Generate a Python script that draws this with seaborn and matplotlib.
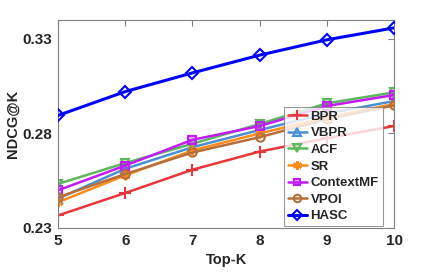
import numpy as np
import pandas as pd
import matplotlib
matplotlib.use("Agg")
import matplotlib.pyplot as plt
import seaborn as sns

topk = [5, 6, 7, 8, 9, 10]
methods = ["BPR", "VBPR", "ACF", "SR", "ContextMF", "VPOI", "HASC"]
bpr = [0.2366, 0.2485, 0.2608, 0.2704, 0.2775, 0.2839]
vbpr = [0.2455, 0.2613, 0.2727, 0.2818, 0.2905, 0.2971]
acf = [0.2533, 0.2643, 0.2745, 0.2850, 0.2959, 0.3017]
sr = [0.2436, 0.2578, 0.2710, 0.2800, 0.2885, 0.2955]
contextmf = [0.2499, 0.2630, 0.2766, 0.2839, 0.2945, 0.3003]
vpoi = [0.2462, 0.2585, 0.2699, 0.2780, 0.2875, 0.2948]
hasc = [0.2895, 0.3021, 0.3120, 0.3214, 0.3295, 0.3358]
yticks = [0.23, 0.28, 0.33]

series = [bpr, vbpr, acf, sr, contextmf, vpoi, hasc]
rows = []
for m, vals in zip(methods, series):
    for k, v in zip(topk, vals):
        rows.append({"Top-K": k, "NDCG@K": v, "Method": m})
df = pd.DataFrame(rows)

colors = {"BPR": "#e8363a", "VBPR": "#4a8fd0", "ACF": "#5cb85c", "SR": "#ff8c1a",
          "ContextMF": "#c21bf5", "VPOI": "#b86e38", "HASC": "#0000ff"}
markers = {"BPR": "+", "VBPR": "^", "ACF": "v", "SR": (6, 2, 0),
           "ContextMF": "s", "VPOI": "o", "HASC": "D"}
msizes = {"BPR": 8, "VBPR": 6, "ACF": 6, "SR": 7, "ContextMF": 5.5, "VPOI": 6, "HASC": 6}

sns.set_style("white")
plt.rcParams['font.family'] = ['Liberation Sans', 'DejaVu Sans']
plt.rcParams['font.weight'] = 'bold'

fig = plt.figure(figsize=(4.36, 2.73), dpi=100)
ax = fig.add_axes([0.133, 0.165, 0.771, 0.762])

for m in methods:
    sub = df[df["Method"] == m]
    sns.lineplot(data=sub, x="Top-K", y="NDCG@K", ax=ax, color=colors[m],
                 marker=markers[m], markersize=msizes[m],
                 markerfacecolor="none" if m in ("HASC", "VPOI", "BPR", "SR") else colors[m] + "55",
                 markeredgecolor=colors[m], markeredgewidth=1.5,
                 linewidth=2.2 if m == "HASC" else 1.8, label=m, zorder=3 if m == "HASC" else 2)

ax.set_xlim(5, 10)
ax.set_ylim(0.23, 0.34)
ax.set_xticks(topk)
ax.set_yticks(yticks)
ax.set_yticklabels([f"{t:.2f}" for t in yticks])
ax.tick_params(direction="in", length=4, color="#808080", labelsize=11, top=True, right=True, pad=4)
for lab in ax.get_xticklabels() + ax.get_yticklabels():
    lab.set_fontweight("bold")
for s in ax.spines.values():
    s.set_color("#808080")
    s.set_linewidth(0.8)
ax.set_xlabel("Top-K", fontsize=10.5, fontweight="bold", labelpad=4)
ax.set_ylabel("NDCG@K", fontsize=10.5, fontweight="bold", labelpad=2)

leg = ax.legend(loc="lower right", bbox_to_anchor=(0.966, 0.008),
                prop={"weight": "bold", "size": 9.5}, frameon=True, fancybox=False,
                handlelength=1.4, labelspacing=0.33, borderpad=0.3, handletextpad=0.3,
                borderaxespad=0, markerscale=0.9)
leg.get_frame().set_edgecolor("#808080")
leg.get_frame().set_linewidth(0.8)

fig.savefig("out.png", dpi=100)
